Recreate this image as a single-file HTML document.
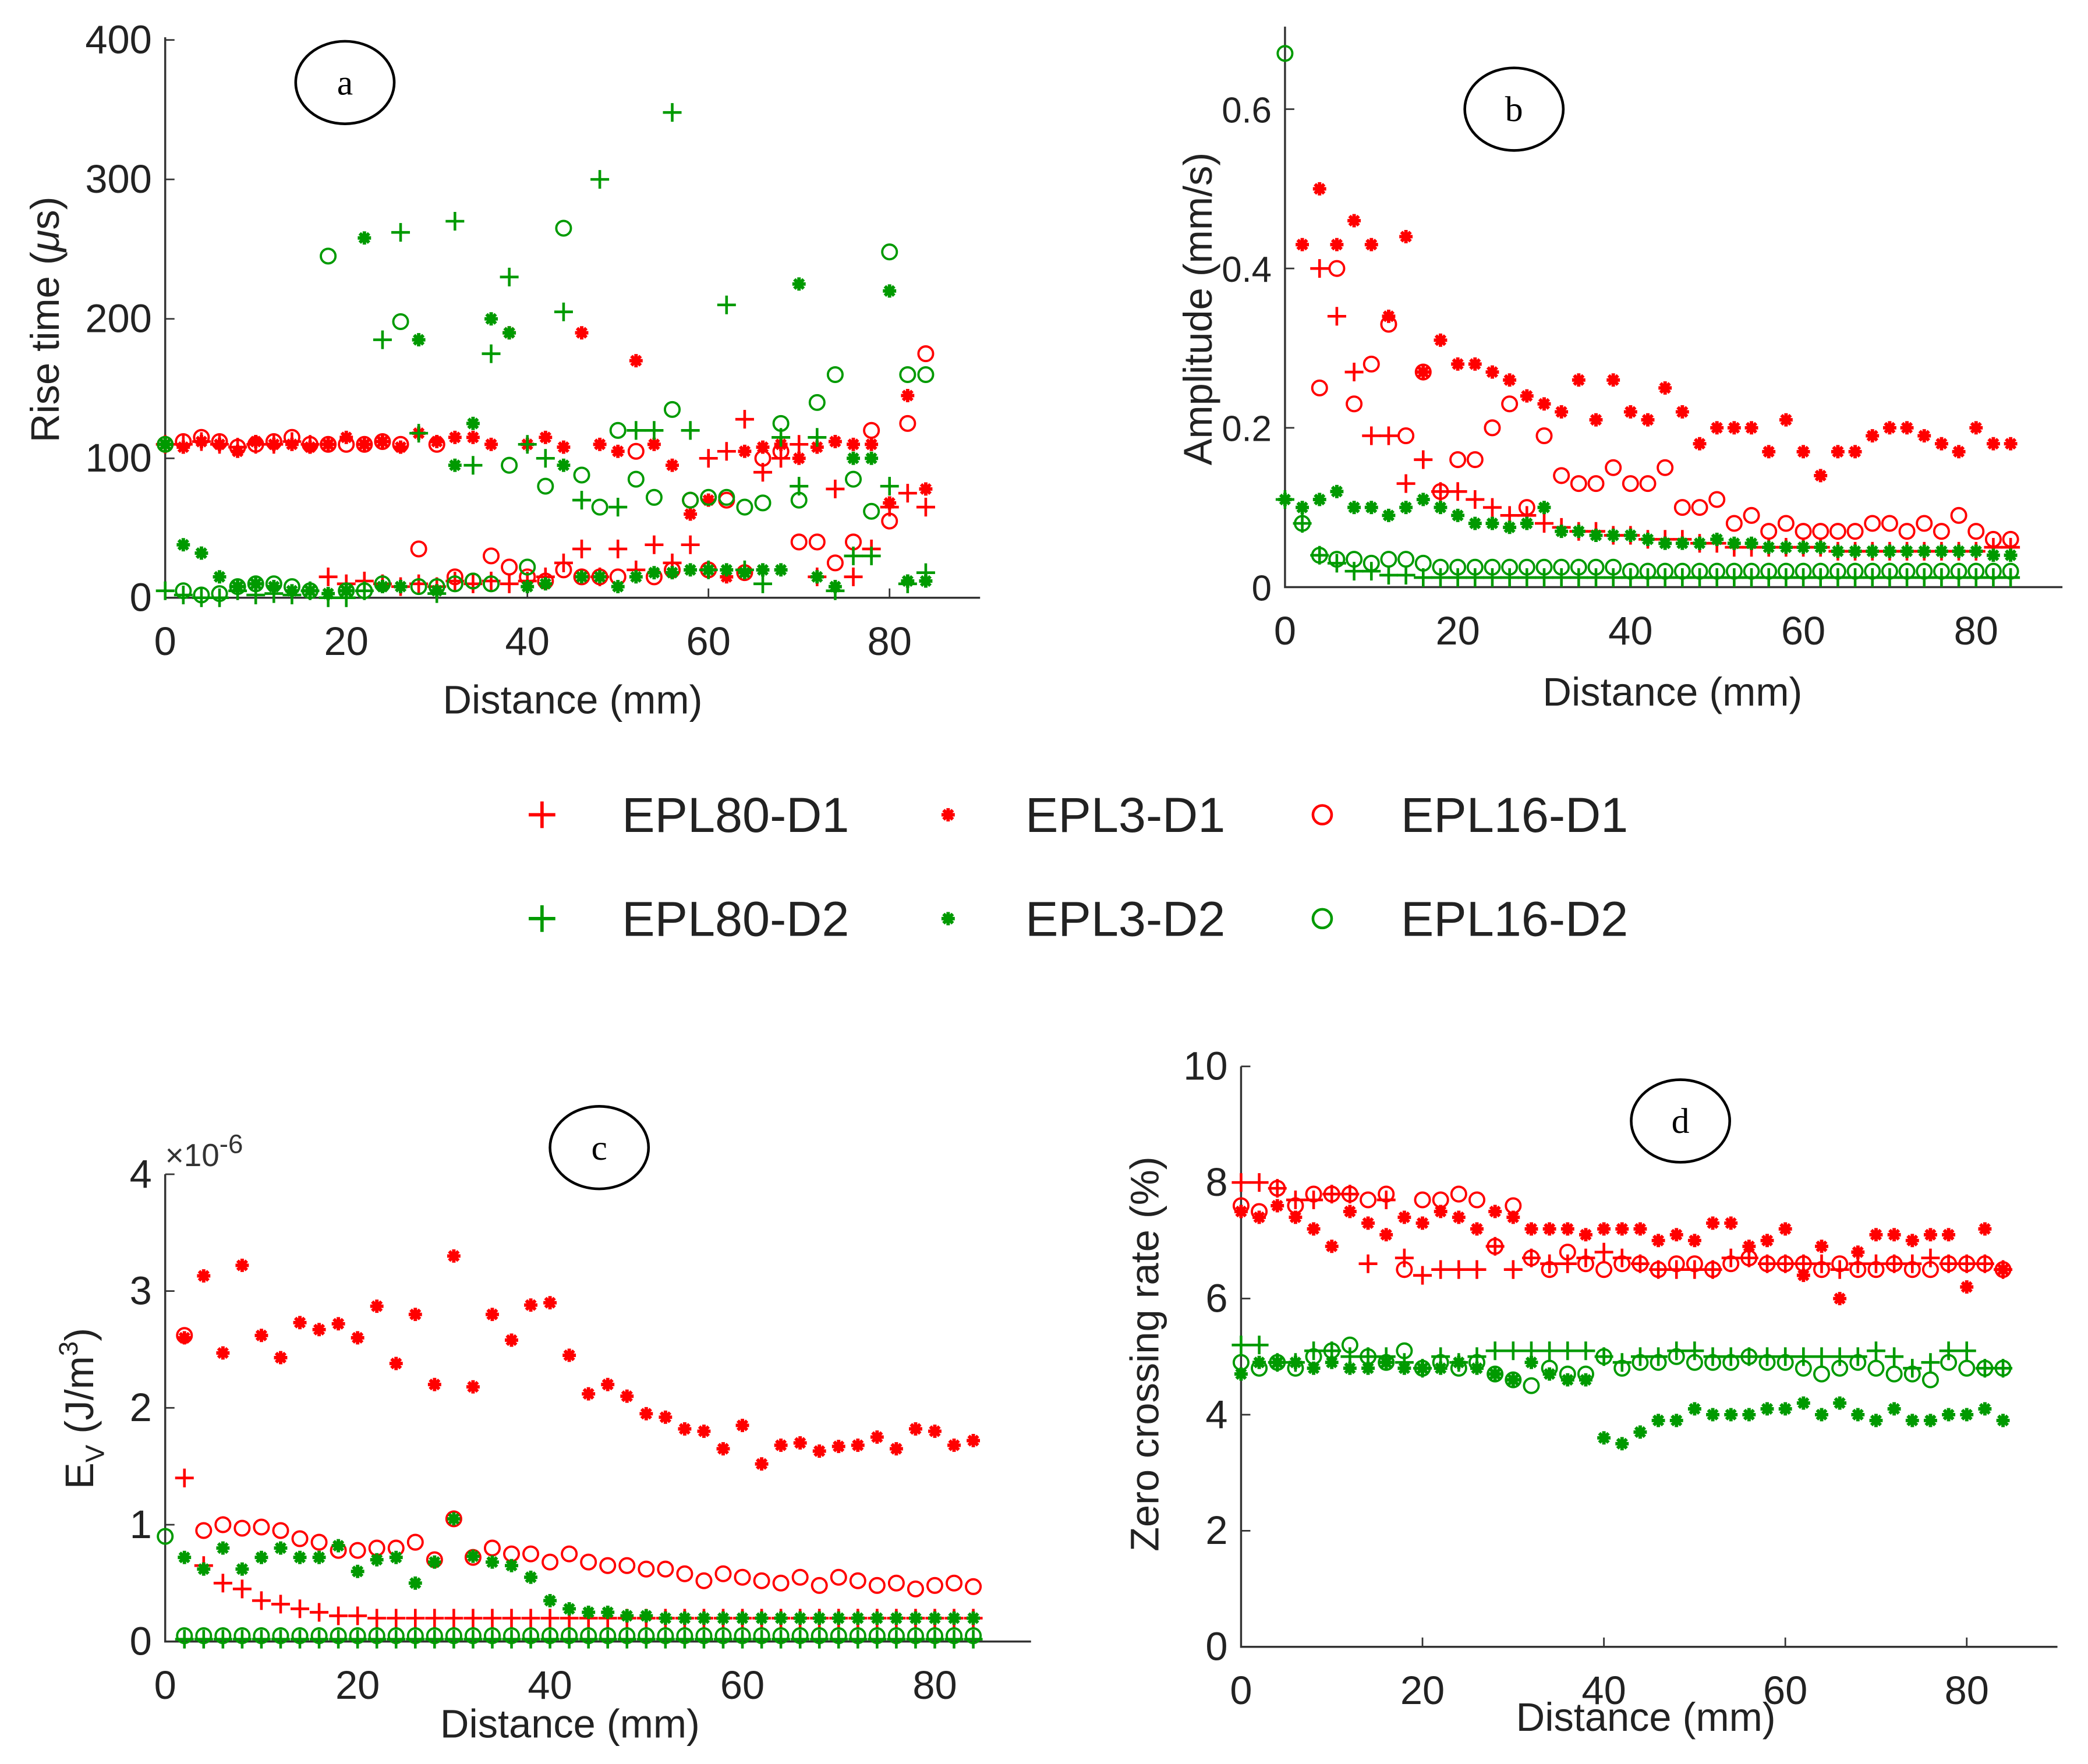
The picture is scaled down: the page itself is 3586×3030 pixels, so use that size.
<!DOCTYPE html>
<html><head><meta charset="utf-8"><style>
html,body{margin:0;padding:0;background:#fff;}
svg{display:block;font-family:"Liberation Sans",Arial,sans-serif;}
</style></head><body>
<svg id="fig" width="3586" height="3030" viewBox="0 0 1568 1325" xmlns="http://www.w3.org/2000/svg">
<rect width="1568" height="1325" fill="#fff"/>
</svg>
<script>
const distances = [0,2,4,6,8,10,12,14,16,18,20,22,24,26,28,30,32,34,36,38,40,42,44,46,48,50,52,54,56,58,60,62,64,66,68,70,72,74,76,78,80,82,84];
const xTicks = [0,20,40,60,80];
const seriesNames = ["EPL80-D1","EPL3-D1","EPL16-D1","EPL80-D2","EPL3-D2","EPL16-D2"];

// Panel a: rise time (us)
const riseR80 = [110,110,112,110,108,110,110,112,110,15,10,12,10,8,10,8,12,10,12,10,12,15,25,35,15,35,20,38,25,38,100,105,128,90,100,110,15,78,15,35,65,75,65];
const riseR3 = [110,108,112,110,105,112,110,110,108,110,115,110,112,108,118,112,115,115,110,190,110,115,108,190,110,105,170,110,95,60,70,15,105,108,110,100,108,112,110,110,68,145,78];
const riseR16 = [110,112,115,112,108,110,112,115,110,110,110,110,112,110,35,110,15,12,30,22,15,12,20,15,15,15,105,15,20,70,20,70,18,100,105,40,40,25,40,120,55,125,175];
const riseG80 = [5,2,0,0,5,2,3,2,5,0,0,5,185,262,118,3,270,95,175,230,110,100,205,70,300,65,120,120,348,120,20,210,20,10,115,80,115,5,30,30,80,10,18];
const riseG3 = [110,38,32,15,8,10,8,5,5,3,5,258,8,8,185,5,95,125,200,190,8,10,95,15,15,8,15,18,18,20,20,20,18,20,20,225,15,8,100,100,220,12,12];
const riseG16 = [110,5,2,3,8,10,10,8,5,245,5,5,10,198,8,8,10,12,10,95,22,80,265,88,65,120,85,72,135,70,72,72,65,68,125,70,140,160,85,62,248,160,160];
const riseTicks = [0,100,200,300,400];

// Panel b: amplitude (mm/s)
const ampR80 = [null,null,0.40,0.34,0.27,0.19,0.19,0.13,0.16,0.12,0.12,0.11,0.10,0.09,0.09,0.08,0.075,0.07,0.07,0.065,0.065,0.06,0.06,0.06,0.055,0.055,0.05,0.05,0.05,0.05,0.05,0.05,0.045,0.045,0.045,0.045,0.045,0.045,0.045,0.045,0.045,0.05,0.05];
const ampR3 = [null,0.43,0.50,0.43,0.46,0.43,0.34,0.44,0.27,0.31,0.28,0.28,0.27,0.26,0.24,0.23,0.22,0.26,0.21,0.26,0.22,0.21,0.25,0.22,0.18,0.20,0.20,0.20,0.17,0.21,0.17,0.14,0.17,0.17,0.19,0.20,0.20,0.19,0.18,0.17,0.20,0.18,0.18];
const ampR16 = [null,null,0.25,0.40,0.23,0.28,0.33,0.19,0.27,0.12,0.16,0.16,0.20,0.23,0.10,0.19,0.14,0.13,0.13,0.15,0.13,0.13,0.15,0.10,0.10,0.11,0.08,0.09,0.07,0.08,0.07,0.07,0.07,0.07,0.08,0.08,0.07,0.08,0.07,0.09,0.07,0.06,0.06];
const ampG80 = [0.11,0.08,0.04,0.03,0.02,0.02,0.015,0.015,0.012,0.012,0.012,0.012,0.012,0.012,0.012,0.012,0.012,0.012,0.012,0.012,0.012,0.012,0.012,0.012,0.012,0.012,0.012,0.012,0.012,0.012,0.012,0.012,0.012,0.012,0.012,0.012,0.012,0.012,0.012,0.012,0.012,0.012,0.012];
const ampG3 = [0.11,0.10,0.11,0.12,0.10,0.10,0.09,0.10,0.11,0.10,0.09,0.08,0.08,0.075,0.08,0.10,0.07,0.07,0.065,0.065,0.065,0.06,0.055,0.055,0.055,0.06,0.055,0.055,0.05,0.05,0.05,0.05,0.045,0.045,0.045,0.045,0.045,0.045,0.045,0.045,0.045,0.04,0.04];
const ampG16 = [0.67,0.08,0.04,0.035,0.035,0.03,0.035,0.035,0.03,0.025,0.025,0.025,0.025,0.025,0.025,0.025,0.025,0.025,0.025,0.025,0.02,0.02,0.02,0.02,0.02,0.02,0.02,0.02,0.02,0.02,0.02,0.02,0.02,0.02,0.02,0.02,0.02,0.02,0.02,0.02,0.02,0.02,0.02];
const ampTicks = [0,0.2,0.4,0.6];

// Panel c: energy (x1e-6 J/m3)
const evR80 = [null,1.4,0.65,0.5,0.45,0.35,0.32,0.28,0.25,0.22,0.22,0.2,0.2,0.2,0.2,0.2,0.2,0.2,0.2,0.2,0.2,0.2,0.2,0.2,0.2,0.2,0.2,0.2,0.2,0.2,0.2,0.2,0.2,0.2,0.2,0.2,0.2,0.2,0.2,0.2,0.2,0.2,0.2];
const evR3 = [null,2.6,3.13,2.47,3.22,2.62,2.43,2.73,2.67,2.72,2.6,2.87,2.38,2.8,2.2,3.3,2.18,2.8,2.58,2.88,2.9,2.45,2.12,2.2,2.1,1.95,1.92,1.82,1.8,1.65,1.85,1.52,1.68,1.7,1.63,1.67,1.68,1.75,1.65,1.82,1.8,1.68,1.72];
const evR16 = [null,2.62,0.95,1.0,0.97,0.98,0.95,0.88,0.85,0.78,0.78,0.8,0.8,0.85,0.7,1.05,0.72,0.8,0.75,0.75,0.68,0.75,0.68,0.65,0.65,0.62,0.62,0.58,0.52,0.58,0.55,0.52,0.5,0.55,0.48,0.55,0.52,0.48,0.5,0.45,0.48,0.5,0.47];
const evG80 = [null,0.02,0.02,0.02,0.02,0.02,0.02,0.02,0.02,0.02,0.02,0.02,0.02,0.02,0.02,0.02,0.02,0.02,0.02,0.02,0.02,0.02,0.02,0.02,0.02,0.02,0.02,0.02,0.02,0.02,0.02,0.02,0.02,0.02,0.02,0.02,0.02,0.02,0.02,0.02,0.02,0.02,0.02];
const evG3 = [null,0.72,0.62,0.8,0.62,0.72,0.8,0.72,0.72,0.82,0.6,0.7,0.72,0.5,0.68,1.05,0.73,0.68,0.65,0.55,0.35,0.28,0.25,0.25,0.22,0.22,0.2,0.2,0.2,0.2,0.2,0.2,0.2,0.2,0.2,0.2,0.2,0.2,0.2,0.2,0.2,0.2,0.2];
const evG16 = [0.9,0.05,0.05,0.05,0.05,0.05,0.05,0.05,0.05,0.05,0.05,0.05,0.05,0.05,0.05,0.05,0.05,0.05,0.05,0.05,0.05,0.05,0.05,0.05,0.05,0.05,0.05,0.05,0.05,0.05,0.05,0.05,0.05,0.05,0.05,0.05,0.05,0.05,0.05,0.05,0.05,0.05,0.05];
const evTicks = [0,1,2,3,4];

// Panel d: zero crossing rate (%)
const zcR80 = [8.0,8.0,7.9,7.7,7.7,7.8,7.8,6.6,7.7,6.7,6.4,6.5,6.5,6.5,6.9,6.5,6.7,6.6,6.6,6.7,6.8,6.7,6.6,6.5,6.5,6.5,6.5,6.7,6.7,6.6,6.6,6.6,6.6,6.5,6.6,6.6,6.6,6.6,6.7,6.6,6.6,6.6,6.5];
const zcR3 = [7.5,7.4,7.6,7.4,7.2,6.9,7.5,7.3,7.1,7.4,7.3,7.5,7.4,7.2,7.5,7.4,7.2,7.2,7.2,7.1,7.2,7.2,7.2,7.0,7.1,7.0,7.3,7.3,6.9,7.0,7.2,6.4,6.9,6.0,6.8,7.1,7.1,7.0,7.1,7.1,6.2,7.2,6.5];
const zcR16 = [7.6,7.5,7.9,7.6,7.8,7.8,7.8,7.7,7.8,6.5,7.7,7.7,7.8,7.7,6.9,7.6,6.7,6.5,6.8,6.6,6.5,6.6,6.6,6.5,6.6,6.6,6.5,6.6,6.7,6.6,6.6,6.6,6.5,6.6,6.5,6.5,6.6,6.5,6.5,6.6,6.6,6.6,6.5];
const zcG80 = [5.2,5.2,4.9,4.9,5.1,5.1,5.0,5.0,5.0,4.9,4.8,5.0,4.9,5.0,5.1,5.1,5.1,5.1,5.1,5.1,5.0,4.9,5.0,5.0,5.1,5.1,5.0,5.0,5.0,5.0,5.0,5.0,5.0,5.0,5.0,5.1,5.0,4.8,4.9,5.1,5.1,4.8,4.8];
const zcG3 = [4.7,4.9,4.9,4.9,4.8,4.9,4.8,4.8,4.9,4.8,4.8,4.8,4.9,4.8,4.7,4.6,4.9,4.7,4.6,4.6,3.6,3.5,3.7,3.9,3.9,4.1,4.0,4.0,4.0,4.1,4.1,4.2,4.0,4.2,4.0,3.9,4.1,3.9,3.9,4.0,4.0,4.1,3.9];
const zcG16 = [4.9,4.8,4.9,4.8,5.0,5.1,5.2,5.0,4.9,5.1,4.8,4.9,4.8,4.9,4.7,4.6,4.5,4.8,4.7,4.7,5.0,4.8,4.9,4.9,5.0,4.9,4.9,4.9,5.0,4.9,4.9,4.8,4.7,4.8,4.9,4.8,4.7,4.7,4.6,4.9,4.8,4.8,4.8];
const zcTicks = [0,2,4,6,8,10];

const NS = "http://www.w3.org/2000/svg";
const svg = document.getElementById('fig');
const RED = "#ff0000", GREEN = "#009a00";
function mk(tag, attrs, parent){
  const e = document.createElementNS(NS, tag);
  for (const k in attrs) e.setAttribute(k, attrs[k]);
  (parent||svg).appendChild(e);
  return e;
}
function marker(g, kind, cx, cy, color){
  if (kind === 'plus'){
    const p = mk('path', {d:`M${cx-7},${cy}H${cx+7}M${cx},${cy-7}V${cy+7}`, stroke:color, 'stroke-width':2, fill:'none'}, g);
    
    
  } else if (kind === 'star'){
    const p = mk('path', {d:`M${cx-5},${cy}H${cx+5}M${cx},${cy-5}V${cy+5}M${cx-3.5},${cy-3.5}L${cx+3.5},${cy+3.5}M${cx-3.5},${cy+3.5}L${cx+3.5},${cy-3.5}`, stroke:color, 'stroke-width':2.6, fill:'none'}, g);
    
    
  } else {
    const c = mk('circle', {cx:cx, cy:cy, r:5.5, stroke:color, 'stroke-width':1.7, fill:'none'}, g);
    
    
  }
}
function panel(cfg){
  const g = mk('g', {});
  
  
  const xs = d => cfg.x0 + (d - 0) * (cfg.x80 - cfg.x0) / 80;
  const ys = v => cfg.y0 - (v - 0) * (cfg.y0 - cfg.yTop) / cfg.yMax;
  const ax = mk('path', {d:`M${cfg.x0},${cfg.axTop}V${cfg.y0}H${xs(90)}`, stroke:'#333', 'stroke-width':1.5, fill:'none'}, g);
  
  
  xTicks.forEach(t => {
    const tk = mk('line', {x1:xs(t), x2:xs(t), y1:cfg.y0, y2:cfg.y0-7, stroke:'#333', 'stroke-width':1.2}, g);
    
    
    const tl = mk('text', {x:xs(t), y:cfg.y0+43, 'font-size':30, 'text-anchor':'middle', fill:'#222'}, g);
    tl.textContent = t;
    
    
  });
  cfg.yTicks.forEach(t => {
    const tk = mk('line', {x1:cfg.x0, x2:cfg.x0+7, y1:ys(t), y2:ys(t), stroke:'#333', 'stroke-width':1.2}, g);
    
    
    const tl = mk('text', {x:cfg.x0-10, y:ys(t)+10, 'font-size':cfg.yFont||30, 'text-anchor':'end', fill:'#222'}, g);
    tl.textContent = t;
    
    
  });
  const kinds = ['plus','star','circle','plus','star','circle'];
  const colors = [RED,RED,RED,GREEN,GREEN,GREEN];
  cfg.series.forEach((arr, si) => {
    const sg = mk('g', {}, g);
    
    
    arr.forEach((v, i) => { if (v !== null) marker(sg, kinds[si], xs(distances[i]), ys(v), colors[si]); });
  });
  const xl = mk('text', {x:cfg.xlx, y:cfg.xly, 'font-size':30, 'text-anchor':'middle', fill:'#222'}, g);
  xl.textContent = 'Distance (mm)';
  
  
  const lab = mk('ellipse', {cx:cfg.lx, cy:cfg.ly, rx:37, ry:31, fill:'none', stroke:'#000', 'stroke-width':2}, g);
  
  
  const lt = mk('text', {x:cfg.lx, y:cfg.ly+9, 'font-size':27, 'text-anchor':'middle', fill:'#000', 'font-family':'Liberation Serif, serif'}, g);
  lt.textContent = cfg.letter;
  
  
  return g;
}

panel({name:'panel-a-rise-time', x0:124, x80:668, y0:449, yTop:30, yMax:400, axTop:28, yTicks:riseTicks,
  series:[riseR80,riseR3,riseR16,riseG80,riseG3,riseG16], xlx:430, xly:536, lx:259, ly:62, letter:'a'});
panel({name:'panel-b-amplitude', x0:965, x80:1484, y0:441, yTop:82, yMax:0.6, axTop:20, yTicks:ampTicks, yFont:27,
  series:[ampR80,ampR3,ampR16,ampG80,ampG3,ampG16], xlx:1256, xly:530, lx:1137, ly:82, letter:'b'});
panel({name:'panel-c-energy', x0:124, x80:702, y0:1233, yTop:882, yMax:4, axTop:882, yTicks:evTicks,
  series:[evR80,evR3,evR16,evG80,evG3,evG16], xlx:428, xly:1305, lx:450, ly:862, letter:'c'});
panel({name:'panel-d-zero-crossing', x0:932, x80:1477, y0:1237, yTop:801, yMax:10, axTop:801, yTicks:zcTicks,
  series:[zcR80,zcR3,zcR16,zcG80,zcG3,zcG16], xlx:1236, xly:1300, lx:1262, ly:842, letter:'d'});

// y-axis titles
function ytitle(name, x, y, html){
  const t = mk('text', {x:0, y:0, transform:`translate(${x},${y}) rotate(-90)`, 'font-size':30, 'text-anchor':'middle', fill:'#222'});
  t.innerHTML = html;
  
  
}
ytitle('y-axis-title-rise-time', 44, 240, 'Rise time  (<tspan font-style="italic">μ</tspan>s)');
ytitle('y-axis-title-amplitude', 910, 232, 'Amplitude (mm/s)');
ytitle('y-axis-title-energy', 70, 1058, 'E<tspan font-size="20" dy="8">V</tspan><tspan dy="-8"> (J/m</tspan><tspan font-size="20" dy="-12">3</tspan><tspan dy="12">)</tspan>');
ytitle('y-axis-title-zero-crossing', 870, 1017, 'Zero crossing rate (%)');
const ex = mk('text', {x:124, y:876, 'font-size':24, fill:'#333'});
ex.innerHTML = '×10<tspan font-size="20" dy="-10">-6</tspan>';



// legend
const legKinds = ['plus','star','circle','plus','star','circle'];
const legColors = [RED,RED,RED,GREEN,GREEN,GREEN];
const legMx = [407,712,993], legTx = [467,770,1052], legY = [612,690];
seriesNames.forEach((n, i) => {
  const g = mk('g', {});
  
  
  const col = i % 3, row = Math.floor(i / 3);
  const mx = legMx[col], my = legY[row];
  if (legKinds[i] === 'plus') {
    mk('path', {d:`M${mx-10},${my}H${mx+10}M${mx},${my-10}V${my+10}`, stroke:legColors[i], 'stroke-width':2.5, fill:'none'}, g);
  } else if (legKinds[i] === 'star') {
    marker(g, 'star', mx, my, legColors[i]);
  } else {
    mk('circle', {cx:mx, cy:my, r:7, stroke:legColors[i], 'stroke-width':2, fill:'none'}, g);
  }
  const t = mk('text', {x:legTx[col], y:my+13, 'font-size':37, fill:'#222'}, g);
  t.textContent = n;
  
  
});
</script>
</body></html>
